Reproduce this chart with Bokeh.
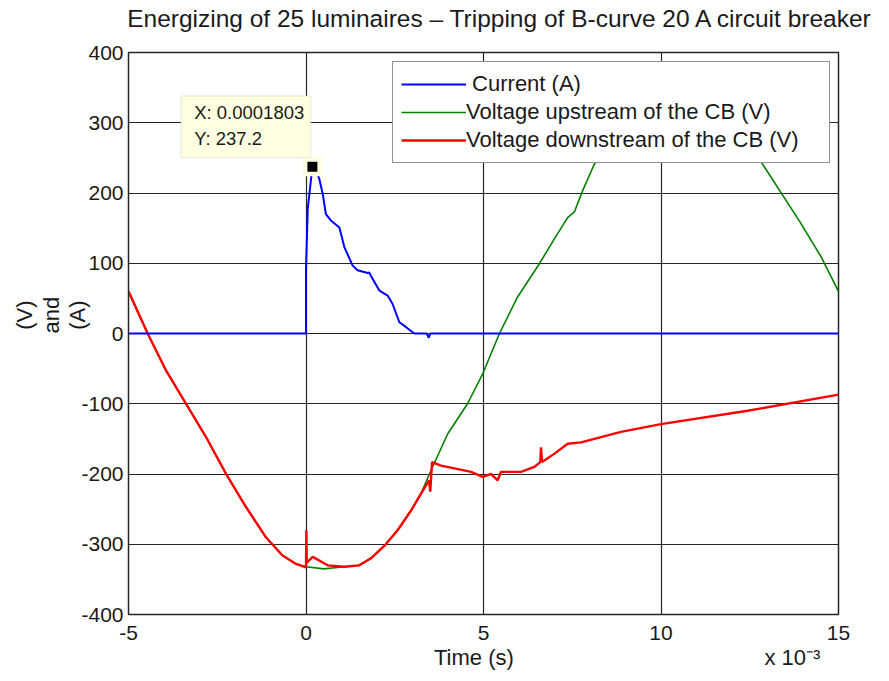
import math
from bokeh.plotting import figure
from bokeh.models import Label, Legend, LegendItem, BoxAnnotation, FixedTicker, LinearAxis
from bokeh.embed import file_html
from bokeh.resources import INLINE

# ---- data (time in ms, values in V or A) ----
cur_t = [-5.0, 0.0, 0.0, 0.05, 0.1803, 0.30, 0.375, 0.47, 0.56, 0.70, 0.94, 1.08, 1.31,
         1.45, 1.74, 1.78, 1.83, 2.07, 2.30, 2.44, 2.63, 2.82, 3.05, 3.40, 3.46, 3.50, 15.0]
cur_v = [0, 0, 92, 178, 237.2, 230, 220, 199, 170, 161, 151, 123, 97,
         90, 86, 87, 82, 61, 54, 42, 16, 9, 0, 0, -6, 0, 0]

up_t = [-5.0, -4.46, -3.94, -3.38, -2.82, -2.25, -1.69, -1.13, -0.66, -0.28, 0.0, 0.5,
        1.08, 1.50, 1.83, 2.21, 2.58, 2.96, 3.24, 3.52, 3.99, 4.55, 4.98, 5.45, 5.96,
        6.57, 7.00, 7.37, 7.56, 7.79, 8.12, 9.0, 10.0, 10.5, 11.0, 12.0, 12.8, 13.9,
        14.5, 15.0]
up_v = [60, 0, -53, -100, -147, -200, -247, -290, -316, -328, -332, -335,
        -332, -330, -320, -302, -280, -252, -228, -195, -143, -100, -57, 0, 52,
        99, 135, 165, 173, 203, 241, 295, 330, 335, 330, 290, 246, 160,
        110, 60]

dn_t = [-5.0, -4.46, -3.94, -3.38, -2.82, -2.25, -1.69, -1.13, -0.66, -0.28, 0.0, 0.01,
        0.02, 0.19, 0.61, 1.08, 1.50, 1.83, 2.21, 2.58, 2.96, 3.24, 3.47, 3.50, 3.55,
        3.80, 4.18, 4.65, 4.98, 5.21, 5.40, 5.49, 6.06, 6.43, 6.60, 6.62, 6.65, 7.00,
        7.37, 7.75, 8.87, 10.0, 12.44, 15.0]
dn_v = [60, 0, -53, -100, -147, -200, -247, -290, -316, -328, -333, -280,
        -326, -318, -330, -332, -330, -320, -302, -280, -252, -228, -209, -225, -183,
        -188, -192, -197, -204, -200, -209, -197, -197, -190, -183, -162, -183, -171,
        -157, -155, -140, -129, -110, -87]

x_ticks = [-5, 0, 5, 10, 15]
y_ticks = [-400, -300, -200, -100, 0, 100, 200, 300, 400]

title_text = "Energizing of 25 luminaires \u2013 Tripping of B-curve 20 A circuit breaker"
labels = ["Current (A)", "Voltage upstream of the CB (V)", "Voltage downstream of the CB (V)"]
y_label_lines = ["(V)", "and", "(A)"]
x_label = "Time (s)"
x_exponent = "x 10\u207b\u00b3"

FONT = "Liberation Sans"
TXT = "#1a1a1a"
NB = "\u00a0"

p = figure(width=889, height=681, x_range=(-5, 15), y_range=(-400, 400),
           output_backend="svg", toolbar_location=None,
           min_border_left=128, min_border_right=51, min_border_top=52,
           min_border_bottom=67)
p.background_fill_color = "white"
p.border_fill_color = "white"
p.outline_line_color = "#262626"
p.outline_line_width = 1.5

xax = p.below[0]
yax = p.left[0]
xax.ticker = FixedTicker(ticks=x_ticks)
yax.ticker = FixedTicker(ticks=y_ticks)
xax.major_label_overrides = {t: str(t) for t in x_ticks}
yax.major_label_overrides = {t: str(t) for t in y_ticks}
for ax in (xax, yax):
    ax.major_label_text_font = FONT
    ax.major_label_text_font_size = "21px"
    ax.major_label_text_color = TXT
    ax.axis_line_color = "#262626"
    ax.major_tick_in = 5
    ax.major_tick_out = 0
    ax.minor_tick_line_color = None
    ax.major_tick_line_color = "#262626"
    ax.axis_label_text_font = FONT
    ax.axis_label_text_font_style = "normal"
    ax.axis_label_text_font_size = "22px"
    ax.axis_label_text_color = TXT
xax.major_label_standoff = 11
yax.major_label_standoff = 5
xax.axis_label = NB * 47 + x_label + NB * 41 + x_exponent
xax.axis_label_standoff = 2
yax.axis_label = "\n".join(NB * 6 + s for s in y_label_lines)
yax.axis_label_standoff = -12
yax.axis_label_text_line_height = 1.06

p.xgrid.ticker = FixedTicker(ticks=x_ticks)
p.ygrid.ticker = FixedTicker(ticks=y_ticks)
p.grid.grid_line_color = "#262626"
p.grid.grid_line_width = 1.2
p.grid.grid_line_alpha = 1.0

# title drawn as the label of a bare axis above the frame
title_axis = LinearAxis(ticker=FixedTicker(ticks=[]), axis_line_color=None,
                        major_tick_line_color=None, minor_tick_line_color=None,
                        major_tick_in=0, major_tick_out=0, major_label_standoff=0,
                        axis_label=NB * 5 + title_text, axis_label_standoff=21,
                        axis_label_text_font=FONT, axis_label_text_font_size="24.5px",
                        axis_label_text_font_style="normal", axis_label_text_color=TXT)
p.add_layout(title_axis, "above")

# data lines
r_up = p.line(up_t, up_v, line_color="#008000", line_width=1.6)
r_dn = p.line(dn_t, dn_v, line_color="#FF0000", line_width=2.4)
r_cur = p.line(cur_t, cur_v, line_color="#0000FF", line_width=2.0)

# data tip at the current peak
ipk = max(range(len(cur_v)), key=lambda i: cur_v[i])
pk_x, pk_y = cur_t[ipk], cur_v[ipk]
p.scatter([pk_x], [pk_y], marker="square", size=19, fill_color="#FFFFE1", line_color=None)
p.scatter([pk_x], [pk_y], marker="square", size=10, fill_color="black", line_color=None)
p.add_layout(BoxAnnotation(left=pk_x - 3.70, right=pk_x - 0.05, bottom=pk_y + 13,
                           top=pk_y + 101, fill_color="#FFFFE1", fill_alpha=1.0,
                           line_color="#c8c8c8", line_width=1.5, level="annotation"))
p.add_layout(Label(x=pk_x - 3.33, y=pk_y + 77, text="X: %.7f" % (pk_x / 1000.0),
                   text_font=FONT, text_font_size="18.5px", text_color=TXT,
                   text_baseline="middle"))
p.add_layout(Label(x=pk_x - 3.33, y=pk_y + 40, text="Y: %.1f" % pk_y,
                   text_font=FONT, text_font_size="18.5px", text_color=TXT,
                   text_baseline="middle"))

# legend
legend = Legend(items=[LegendItem(label=NB + labels[0], renderers=[r_cur]),
                       LegendItem(label=labels[1], renderers=[r_up]),
                       LegendItem(label=labels[2], renderers=[r_dn])],
                location=(264, 451))
legend.label_text_font = FONT
legend.label_text_font_size = "22px"
legend.label_text_color = TXT
legend.glyph_width = 65
legend.glyph_height = 28
legend.label_height = 28
legend.label_width = 355
legend.label_standoff = 0
legend.spacing = 0
legend.padding = 8
legend.margin = 0
legend.border_line_color = "#262626"
legend.border_line_width = 1.2
legend.background_fill_color = "white"
legend.background_fill_alpha = 1.0
p.add_layout(legend)

open("out.html", "w").write(file_html(p, INLINE))
